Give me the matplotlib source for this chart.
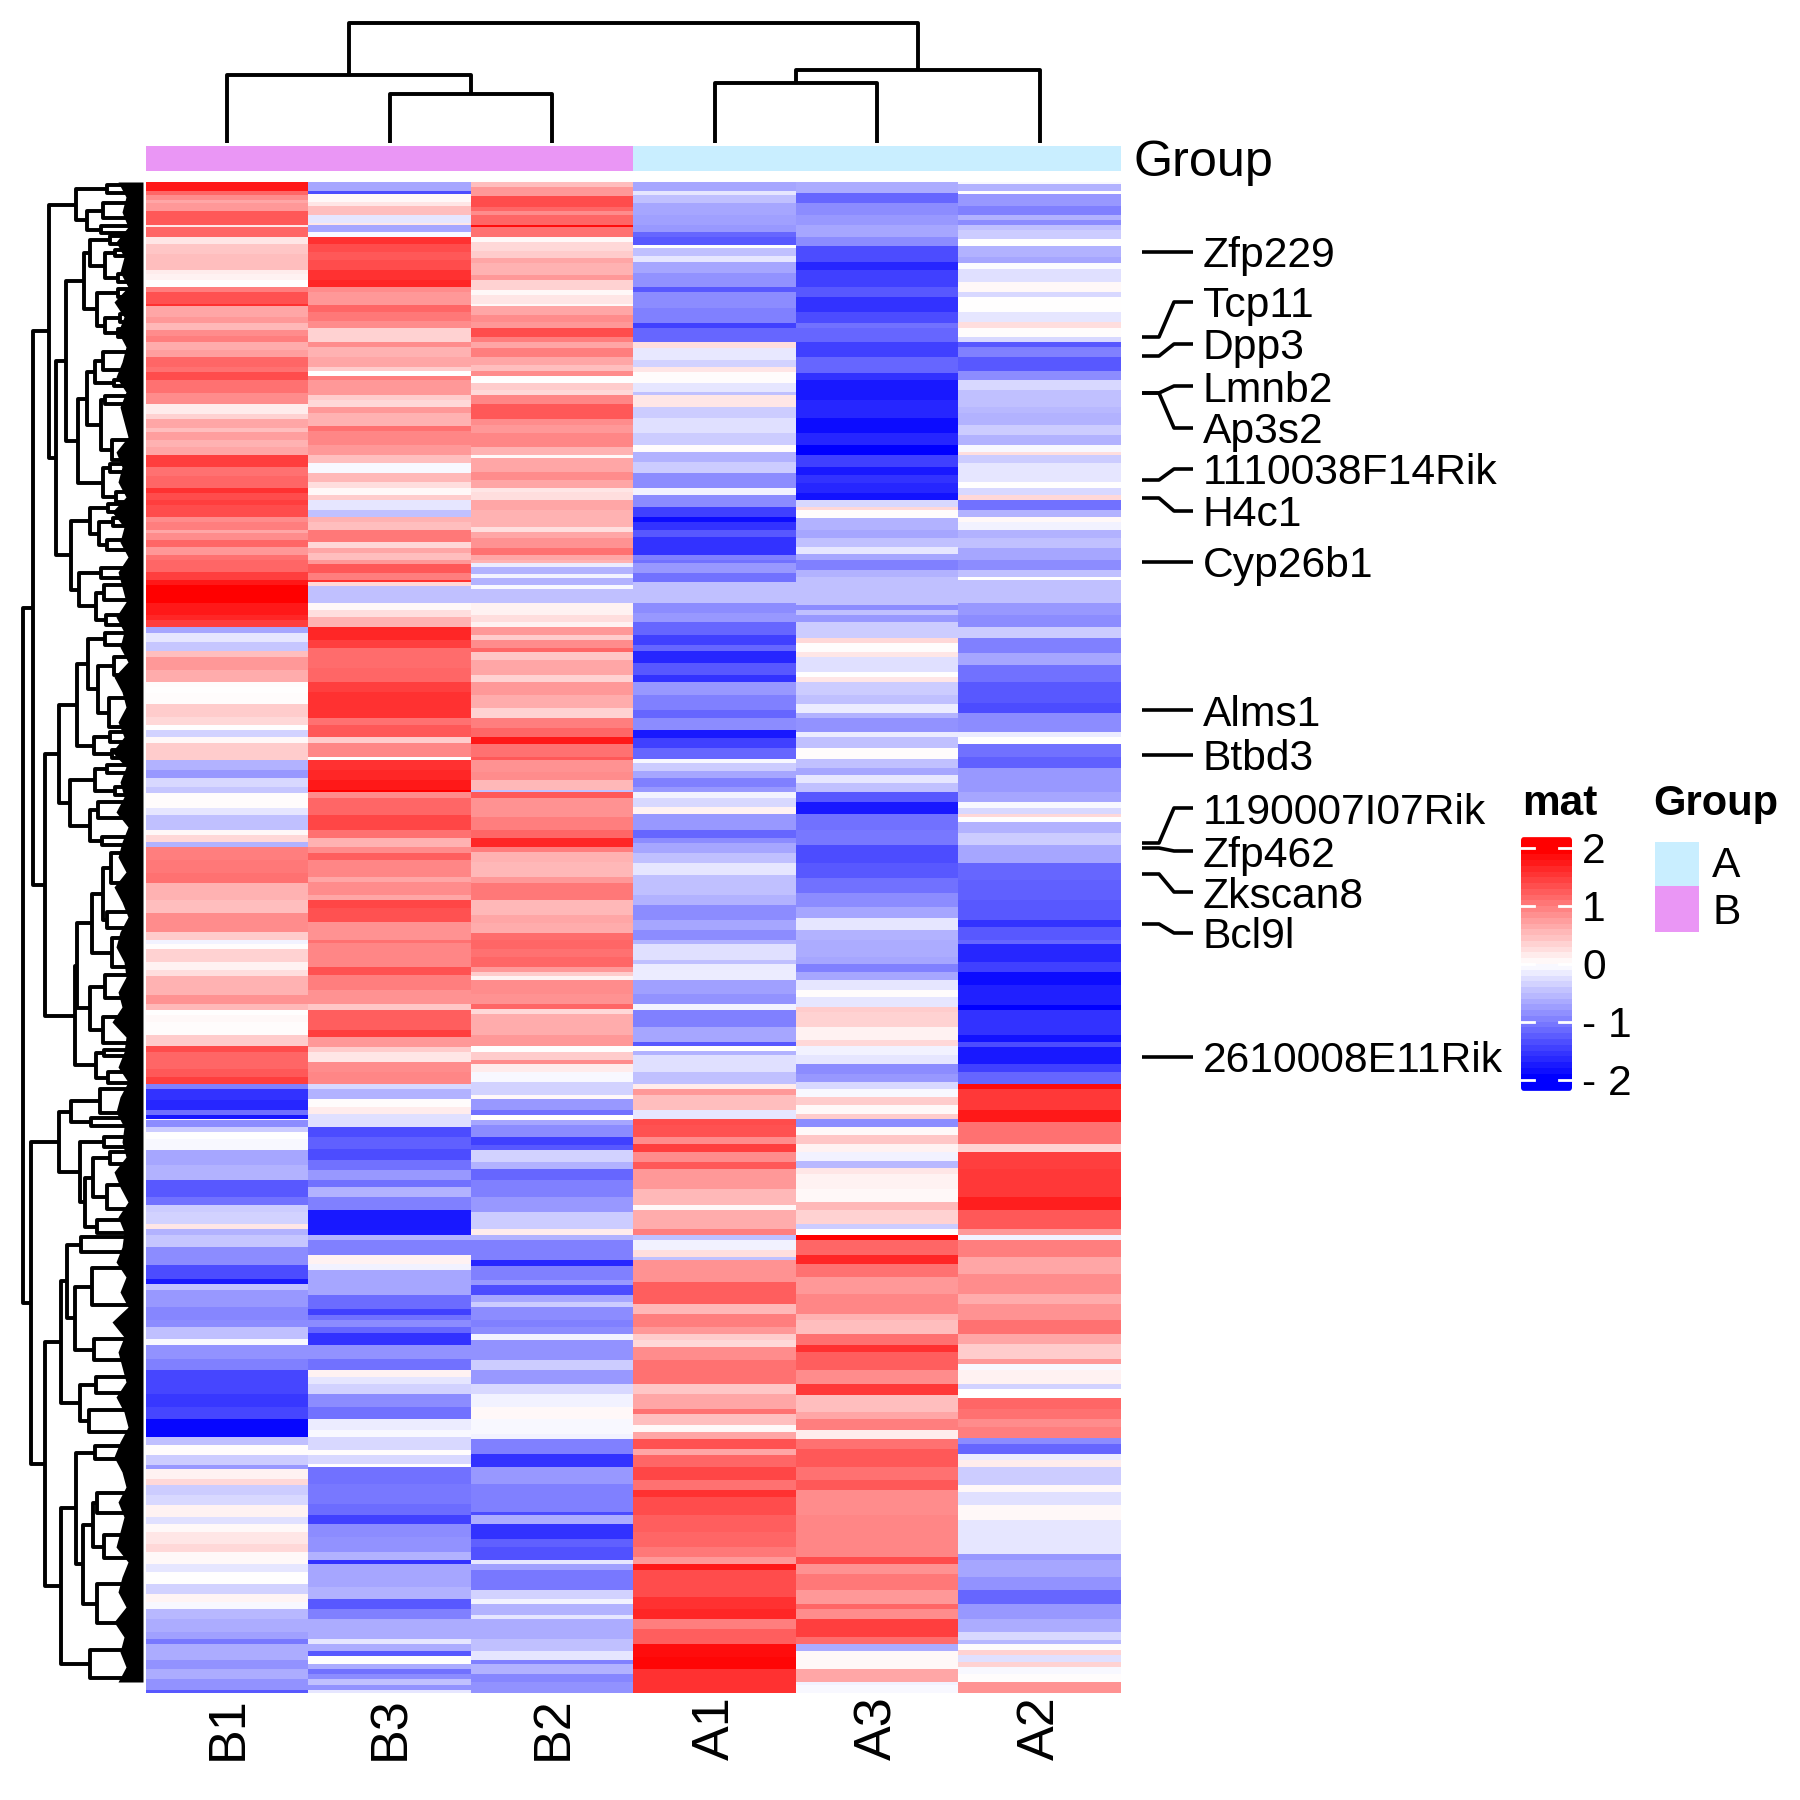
"""
plot.py
Heatmap kiểu ComplexHeatmap: 6 mẫu, dendrogram hàng + cột, nhãn gene bên phải.
"""
import matplotlib
matplotlib.use("Agg")
import matplotlib.pyplot as plt
import numpy as np
from matplotlib.colors import LinearSegmentedColormap, ListedColormap
from matplotlib.patches import FancyBboxPatch

plt.rcParams["font.family"] = ["Liberation Sans", "DejaVu Sans"]

W, H = 1800, 1800

samples = ["B1", "B3", "B2", "A1", "A3", "A2"]
sample_group = [1, 1, 1, 0, 0, 0]
group_names = ["A", "B"]
group_colors = ["#C9EEFF", "#EA96F5"]

# (hàng kết thúc, z-score) — mỗi cột 4 đoạn, mỗi đoạn 1140 hàng
b1_bands = [
    [(33,1.8),(45,1.2),(60,.9),(70,.7),(93,.8),(135,1.3),(141,.2),(171,1.2),(192,.2),(222,.45),(270,.5),(282,.15),(300,.1),(320,0),(336,1.0),(372,1.35),(378,1.6),(410,.7),(430,.8),(450,.55),(468,.9),(486,1.0),(510,.65),(530,.75),(560,1.2),(575,1.1),(600,1.4),(640,1.1),(672,.9),(702,.15),(717,.35),(745,.7),(755,.5),(780,.75),(800,.6),(825,.7),(860,1.5),(888,1.1),(925,1.2),(940,1.6),(960,1.4),(975,1.5),(1010,1.4),(1025,.9),(1050,1.0),(1060,.7),(1080,.9),(1100,1.2),(1125,.8),(1140,1.1)],
    [(35,1.2),(60,1.5),(75,1.8),(130,2.0),(165,1.8),(180,1.7),(200,1.5),(220,-.7),(245,-.2),(272,-.45),(290,.5),(330,.8),(365,.65),(380,.03),(400,0),(432,.03),(470,.4),(495,.3),(510,0),(530,-.35),(550,.05),(600,.4),(630,-.6),(655,-.8),(680,-.3),(700,-.45),(745,.03),(765,-.2),(810,-.5),(825,.05),(845,.3),(860,-.6),(900,1.0),(940,1.05),(970,1.1),(1020,.6),(1060,.5),(1115,.9),(1140,.4)],
    [(12,-.1),(25,.02),(65,.35),(90,.1),(108,.25),(165,.6),(190,.85),(210,.55),(225,0),(245,.05),(285,.02),(318,.4),(335,1.4),(385,1.2),(410,1.3),(432,1.5),(445,-1.0),(480,-1.6),(510,-1.7),(525,-1.1),(535,-1.8),(540,.05),(560,-.9),(575,-.4),(595,0),(630,-.05),(675,-.7),(720,-.6),(770,-1.3),(795,-1.1),(815,-.4),(850,-.35),(865,.2),(885,-.6),(920,-.45),(975,-.9),(1015,-1.4),(1030,-1.8),(1050,-.5),(1100,-.8),(1140,-.95)],
    [(20,-.9),(55,-.5),(75,-.05),(115,-.85),(150,-1.0),(220,-1.45),(260,-1.55),(295,-1.45),(350,-1.95),(375,-.5),(405,.02),(435,-.4),(445,-.8),(475,.1),(495,.3),(525,-.4),(555,-.3),(590,.1),(610,-.25),(635,.05),(670,.2),(695,.3),(730,.05),(755,-.2),(790,0),(820,-.35),(845,.08),(865,-.05),(895,-.55),(935,-.65),(955,-.75),(972,-1.05),(1020,-.65),(1045,-.85),(1075,-.65),(1110,-.85),(1140,-1.3)],
]
b3_bands = [
    [(33,-.7),(42,-1.4),(65,.05),(78,.2),(105,.5),(130,-.2),(136,.2),(156,-.7),(171,-.05),(192,1.6),(215,1.4),(240,1.3),(270,1.4),(300,1.6),(320,1.7),(336,.9),(375,.8),(395,1.2),(422,1.05),(445,.9),(486,.35),(500,.9),(530,.6),(560,.7),(572,.4),(588,0),(600,1.0),(645,.8),(660,.4),(680,.3),(700,.8),(738,.6),(752,1.1),(795,.95),(825,.8),(850,.5),(880,-.05),(905,.55),(925,.25),(945,.05),(960,.4),(990,-.2),(1012,-.5),(1025,.6),(1050,.5),(1085,1.05),(1105,.3),(1120,.7),(1140,.5)],
    [(12,.8),(38,1.3),(60,1.0),(65,1.6),(78,.3),(130,-.5),(150,.05),(170,.25),(200,.6),(240,1.7),(265,1.5),(325,1.15),(365,1.2),(395,1.5),(475,1.6),(495,1.1),(530,1.3),(550,.4),(590,.95),(600,0),(630,1.6),(660,1.7),(690,1.8),(697,2.0),(715,.9),(765,1.2),(810,1.45),(835,1.1),(860,.6),(880,.9),(900,1.25),(950,.95),(965,.7),(1005,.9),(1020,.7),(1045,1.45),(1085,1.35),(1140,.85)],
    [(8,1.1),(80,.95),(105,1.35),(150,1.0),(190,.85),(210,.45),(270,1.25),(290,1.5),(320,.8),(335,.4),(365,.2),(395,.9),(430,.95),(445,-.3),(475,-.6),(500,.03),(520,.15),(560,-.25),(590,-1.4),(625,-1.25),(660,-1.4),(690,-1.1),(720,-.8),(740,-1.1),(770,-.6),(810,-1.0),(885,-1.8),(900,-.6),(945,-1.0),(970,.1),(990,-.1),(1065,-.7),(1105,-1.15),(1125,-1.5),(1140,-1.1)],
    [(20,-.9),(38,-1.2),(75,-1.6),(115,-.85),(150,-1.1),(170,.1),(190,-.2),(220,-.35),(260,-.9),(295,-1.1),(330,-.15),(350,-.05),(390,-.3),(405,.03),(430,-.3),(440,0),(490,-1.1),(550,-1.05),(585,-1.15),(610,-1.5),(650,-.9),(695,-.85),(720,-.6),(730,-1.6),(800,-.7),(835,-.6),(865,-1.3),(895,-1.0),(955,-.65),(972,-.2),(993,-.65),(1008,-1.3),(1030,0),(1045,-.65),(1060,-1.1),(1075,-.9),(1095,-.5),(1110,-.85),(1140,-.2)],
]
b2_bands = [
    [(20,.5),(48,.8),(80,1.4),(93,1.2),(105,.9),(135,1.2),(141,1.9),(171,1.1),(186,.05),(213,.3),(235,.4),(250,.7),(285,.6),(300,.8),(330,.35),(345,.05),(372,.2),(378,.05),(405,.7),(425,.9),(445,.8),(470,1.4),(486,1.0),(505,.7),(530,1.0),(555,.7),(572,.5),(588,.9),(610,0),(630,.4),(645,.3),(672,.95),(717,1.3),(735,.9),(760,.8),(800,.95),(825,.6),(835,.05),(875,.7),(900,.9),(925,.7),(935,.2),(960,.25),(990,.7),(1040,.6),(1055,.25),(1075,.7),(1105,.85),(1125,1.1),(1140,.7)],
    [(8,.6),(22,-.15),(42,-.6),(55,-.1),(75,-.6),(88,-.05),(130,-.5),(165,.1),(185,.25),(200,.1),(225,.8),(240,.4),(265,.9),(275,1.2),(300,.45),(345,.7),(365,.35),(405,.8),(445,.65),(475,.35),(505,1.0),(530,1.2),(552,1.8),(590,1.1),(600,1.3),(635,.85),(660,.9),(690,.55),(697,-.5),(715,1.3),(770,.85),(810,1.0),(835,1.2),(860,1.7),(875,1.0),(905,.6),(950,.55),(970,.8),(1020,1.05),(1065,.55),(1090,.7),(1120,.65),(1140,1.15)],
    [(25,1.2),(50,1.1),(80,1.2),(95,.8),(108,.4),(120,.1),(160,.9),(190,.85),(205,1.2),(220,.3),(285,.65),(318,.8),(335,0),(360,.4),(370,.9),(395,.15),(425,-.05),(465,-.35),(475,.05),(510,-.8),(525,-1.1),(540,.01),(555,-.7),(590,-.9),(615,-1.5),(630,-1.3),(665,-.35),(685,-.6),(720,-1.2),(770,-1.0),(815,-.8),(865,-.4),(885,.15),(900,-.6),(960,-1.0),(978,-1.7),(1020,-1.0),(1035,-.8),(1065,-1.4),(1085,-.7),(1100,-.4),(1140,-.9)],
    [(20,-1.0),(40,-.9),(60,-.1),(120,-.85),(150,-.4),(190,-.8),(220,-.3),(260,-.1),(295,.05),(340,-.05),(355,-.1),(400,-1.0),(440,-1.6),(490,-.8),(575,-1.0),(585,-1.4),(610,-.65),(655,-1.6),(680,-1.25),(720,-1.35),(730,-.2),(750,-.75),(810,-1.05),(835,-.35),(850,-.1),(885,-.6),(895,-.2),(955,-.65),(993,-.5),(1020,-.2),(1030,-1.0),(1060,-.6),(1085,-.95),(1140,-.85)],
]
a1_bands = [
    [(33,-.7),(45,-.2),(68,-.5),(105,-.7),(135,-.75),(156,-.8),(171,-1.2),(195,-1.3),(205,0),(228,-.5),(245,-.2),(280,-.7),(320,-.85),(336,-1.3),(385,-.9),(430,-1.0),(445,-1.5),(486,-1.2),(505,.25),(540,-.18),(560,-.35),(575,.2),(610,.03),(635,-.2),(645,-.5),(680,.2),(715,-.4),(760,-.25),(795,-.4),(815,.02),(845,-.6),(880,-.4),(925,-.9),(945,-.1),(980,-.9),(1010,-1.5),(1025,-1.9),(1050,-1.6),(1070,-1.3),(1125,-1.6),(1140,-1.0)],
    [(10,-1.1),(40,-.8),(65,-1.1),(130,-.5),(160,-.9),(185,-.8),(225,-1.2),(255,-1.5),(273,-1.2),(310,-1.7),(345,-1.3),(365,-1.6),(405,-.8),(450,-1.0),(475,-1.2),(510,-.9),(535,-1.8),(565,-1.5),(597,-1.2),(610,-.05),(632,-.4),(655,-.7),(680,-1.0),(697,-.8),(715,-.1),(740,-.3),(762,.1),(810,-.8),(835,-1.2),(850,-.9),(880,-.7),(910,-.5),(945,-.2),(1005,-.5),(1035,-.6),(1080,-.9),(1110,-.7),(1140,-.9)],
    [(10,-.6),(60,-.25),(70,-.5),(118,-.15),(160,-.75),(190,-.85),(210,-.1),(260,-1.0),(305,-.7),(318,-1.3),(333,0),(345,-.6),(395,-.25),(432,-.5),(445,.15),(465,.8),(510,.5),(535,-.2),(555,1.4),(590,1.35),(612,.9),(635,1.5),(665,.9),(685,1.3),(745,.8),(795,.55),(810,.05),(865,.65),(885,1.0),(900,-.5),(930,-.1),(950,.25),(960,-.5),(1025,.85),(1090,1.25),(1120,.55),(1140,1.0)],
    [(20,1.0),(40,.8),(60,.4),(80,.3),(120,.9),(190,1.1),(220,.45),(265,.7),(280,1.1),(315,.5),(335,.05),(355,.7),(385,1.35),(405,.7),(440,1.2),(480,1.45),(510,1.1),(530,1.6),(585,1.4),(635,1.25),(680,1.2),(710,1.05),(730,.8),(750,1.8),(830,1.4),(865,1.6),(895,1.7),(925,1.0),(972,1.25),(1010,1.9),(1045,1.95),(1140,1.6)],
]
a3_bands = [
    [(40,-.65),(68,-1.2),(105,-.9),(135,-.8),(170,-.7),(198,-.9),(245,-1.4),(270,-1.7),(320,-1.5),(350,-1.3),(395,-1.6),(430,-1.4),(445,-1.1),(486,-1.2),(530,-1.5),(578,-1.2),(600,-1.6),(660,-1.8),(715,-1.7),(760,-1.9),(795,-1.7),(825,-2.0),(860,-1.5),(885,-1.8),(910,-1.6),(940,-1.7),(960,-1.85),(980,-.3),(990,.3),(1015,.03),(1050,-.6),(1075,-.7),(1100,-.5),(1122,-.2),(1140,-.7)],
    [(30,-1.0),(50,-.6),(135,-.5),(150,-.9),(165,-.5),(185,-.8),(235,-.4),(250,.3),(275,.03),(290,.2),(335,-.25),(350,0),(365,.2),(405,-.4),(432,-.5),(460,-.15),(475,-.6),(515,-.85),(530,-.15),(565,-.5),(597,.03),(625,-.5),(645,-.7),(670,-.2),(697,-.5),(725,-1.3),(762,-1.8),(810,-1.1),(855,-1.05),(910,-1.4),(955,-1.3),(1000,-1.1),(1040,-.9),(1075,-.7),(1110,-.2),(1140,-.6)],
    [(50,-.65),(70,-.7),(95,-1.0),(118,-.7),(150,-.2),(170,.02),(200,-.2),(215,.4),(260,.35),(300,.1),(318,.3),(345,-.1),(370,-.2),(400,-.9),(425,-.8),(445,-.3),(470,-.05),(495,.4),(520,.05),(535,.4),(560,-.9),(585,.05),(612,.45),(635,.1),(662,-.1),(682,-.55),(700,.2),(745,.1),(785,.05),(810,.55),(850,.35),(865,-.4),(885,0),(900,2.0),(945,1.2),(970,1.7),(1010,1.1),(1060,.8),(1120,.95),(1140,.6)],
    [(40,.5),(75,1.1),(95,1.6),(150,1.25),(190,.9),(225,1.55),(275,.5),(295,.7),(330,1.0),(355,.15),(385,1.1),(440,1.3),(480,1.1),(510,1.3),(585,.9),(710,.95),(730,1.4),(760,.85),(810,1.05),(850,.8),(865,1.2),(895,.9),(950,1.5),(972,1.15),(993,-.65),(1045,.06),(1085,.7),(1095,-.1),(1140,-.05)],
]
a2_bands = [
    [(12,-.05),(33,-.6),(42,0),(78,-.8),(105,-1.0),(120,-.6),(135,-.9),(150,-.5),(178,-.4),(198,0),(230,-.6),(248,-.7),(268,-.02),(305,-.25),(335,.05),(350,-.3),(395,0),(425,-.2),(445,.25),(470,.02),(486,-.3),(500,-1.3),(530,-1.0),(572,-1.3),(600,-.9),(630,-.3),(680,-.5),(700,-.55),(735,-.6),(765,-.4),(795,-.6),(815,-.05),(825,.25),(850,-.4),(905,-.2),(925,0),(945,-.3),(960,.3),(990,-1.1),(1010,-.6),(1025,.05),(1050,-.1),(1075,-.6),(1105,-.5),(1140,-.7)],
    [(30,-.9),(50,-.5),(60,0),(130,-.5),(165,-.8),(200,-.9),(235,-.4),(280,-1.0),(315,-.7),(365,-1.1),(430,-1.3),(460,-1.4),(515,-.9),(530,-.15),(552,0),(590,-1.1),(625,-1.25),(695,-.8),(725,-.7),(745,-.05),(762,-.3),(770,.3),(785,0),(820,-.6),(855,-.4),(910,-.7),(960,-1.2),(1020,-1.25),(1080,-1.3),(1100,-1.6),(1140,-1.3)],
    [(10,-1.2),(65,-1.7),(95,-1.5),(135,-1.9),(195,-1.75),(210,-2.0),(285,-1.6),(305,-1.85),(320,-1.4),(370,-1.8),(395,-1.5),(432,-1.2),(447,1.9),(510,1.55),(545,1.8),(610,1.1),(635,.35),(685,1.5),(770,1.55),(810,1.75),(865,1.3),(885,.8),(900,-.1),(950,1.0),(1000,.7),(1060,.9),(1090,.65),(1140,.85)],
    [(40,1.1),(70,.7),(115,.4),(130,.8),(150,-.05),(190,.1),(205,-.35),(232,0),(265,1.2),(295,1.1),(320,.9),(352,1.0),(370,-.9),(400,-1.2),(420,-.15),(440,.15),(495,-.4),(515,.05),(555,-.25),(600,.05),(700,-.2),(720,-.8),(770,-.7),(810,-.85),(850,-1.2),(895,-.8),(935,-.65),(960,-.3),(972,-.55),(990,.02),(1005,.35),(1025,-.25),(1040,.35),(1060,-.05),(1085,.03),(1140,.85)],
]
SKIP_TOP, SKIP_BOTTOM = 6, 22  # hàng nằm ngoài heatmap ở đầu và cuối

# dendrogram: (độ cao, nhánh trên, nhánh dưới); lá = vị trí hàng / cột
col_tree = (120, (68, 0.5, (49, 1.5, 2.5)), (73, (60, 3.5, 4.5), 5.5))

row_n1 = (76, (107, 185, 193), (87, (103, 203, 218), (101, 226, 233)))
row_n2 = (66,
          (84, (90, (110, 236, 244), (105, (115, 250, 256), (118, 274, 282))),
               (97, (118, 289, 297), (105, (120, 314, 322), (118, 329, 337)))),
          (78, (87, (95, (103, 352, 370), (114, 380, 386)), (101, (105, 396, 404), (112, 440, 460))),
               (103, (110, 464, 472), (116, 492, 502))))
row_n3 = (71,
          (90, (108, 504, 512), (99, (113, 518, 526), (107, 540, 550))),
          (79, (101, 568, 578), (96, (104, 585, 600), (106, 615, 625))))
row_lower_a = (59,
               (77, (88, (105, 633, 645), (98, (114, 657, 675), (109, 698, 727))),
                    (94, (110, 732, 742), (112, 750, 758))),
               (70, (95, (107, 765, 773), (115, 787, 795)), (90, (98, 802, 818), (102, 837, 845))))
row_lower_b = (75,
               (77, (92, (103, (111, 853, 883), (107, 912, 928)), (112, 938, 967)),
                    (90, (105, 975, 998), (103, 1017, 1043))),
               (96, (104, 1050, 1056), (108, 1072, 1083)))
row_c1 = (59, (71, (100, 1089, 1113), (91, 1118, 1126)),
          (80, (104, 1137, 1147), (85, (93, (110, 1152, 1164), (107, 1185, 1209)), (97, 1220, 1233))))
row_c2 = (61, (67, (81, 1237, 1252), (75, (92, 1268, 1305), (94, 1339, 1360))),
          (80, (96, 1377, 1393), (89, 1410, 1432)))
row_c3 = (61, (76, (95, 1446, 1459), (83, (93, (97, 1493, 1513), (104, 1535, 1558)), (97, 1584, 1623))),
          (90, 1650, 1678))
row_tree = (23,
            (33, (49, row_n1, (56, row_n2, row_n3)), (45, row_lower_a, row_lower_b)),
            (31, row_c1, (45, row_c2, row_c3)))

# mép trái phần lá đen dày đặc, mỗi 15 hàng
leaf_edge = [118, 126, 122, 128, 116, 124, 120, 128, 114, 124, 118, 126, 122, 116, 126, 120, 124, 128,
             116, 122, 118, 126, 112, 124, 120, 128, 118, 122, 126, 116, 124, 120, 128, 114, 122, 126,
             118, 124, 112, 126, 120, 124, 116, 128, 122, 118, 126, 114, 122, 128, 120, 116, 124, 126,
             118, 122, 112, 126, 124, 118, 128, 120, 116, 124, 122, 126, 114, 120, 128, 118, 124, 122,
             116, 126, 120, 128, 112, 124, 118, 122, 126, 116, 124, 128, 120, 114, 122, 126, 118, 124,
             120, 116, 128, 122, 118, 126, 114, 124, 120, 126, 118]

# nhãn gene
genes = ["Zfp229", "Tcp11", "Dpp3", "Lmnb2", "Ap3s2", "1110038F14Rik", "H4c1", "Cyp26b1",
         "Alms1", "Btbd3", "1190007I07Rik", "Zfp462", "Zkscan8", "Bcl9l", "2610008E11Rik"]
gene_rows = [252, 337, 356, 393, 393, 480, 498, 562, 710, 755, 843, 848, 874, 924, 1057]
gene_label_y = [252, 302, 344, 386, 428, 469, 511, 562, 710, 755, 808, 851, 892, 933, 1057]

cbar_ticks = [2, 1, 0, -1, -2]
cbar_tick_labels = ["2", "1", "0", "- 1", "- 2"]


def px_axes(fig, x0, y0, x1, y1, **kw):
    return fig.add_axes([x0 / W, 1 - y1 / H, (x1 - x0) / W, (y1 - y0) / H], **kw)


def build_matrix():
    cols = []
    for bands in (b1_bands, b3_bands, b2_bands, a1_bands, a3_bands, a2_bands):
        col = []
        for seg in bands:
            start = 0
            for end, val in seg:
                col.extend([val] * (end - start))
                start = end
        cols.append(col[SKIP_TOP:len(col) - SKIP_BOTTOM])
    return np.array(cols).T


def draw_tree(ax, node, leaf_pos, horizontal):
    """Vẽ đệ quy, trả về tâm của nhánh."""
    if not isinstance(node, tuple):
        return node
    h, a, b = node
    pa = draw_tree(ax, a, leaf_pos, horizontal)
    pb = draw_tree(ax, b, leaf_pos, horizontal)
    ha = a[0] if isinstance(a, tuple) else leaf_pos
    hb = b[0] if isinstance(b, tuple) else leaf_pos
    xs, ys = [ha, h, h, hb], [pa, pa, pb, pb]
    if horizontal:
        xs, ys = ys, xs
    ax.plot(xs, ys, color="black", lw=2.8, solid_capstyle="butt", solid_joinstyle="round", clip_on=False)
    return (pa + pb) / 2


fig = plt.figure(figsize=(W / 100, H / 100), dpi=100)
cmap = LinearSegmentedColormap.from_list("bwr2", ["#0000FF", "#FFFFFF", "#FF0000"], N=256)

# ── Heatmap ───────────────────────────────────────────────────────────────────
mat = build_matrix()
ax = px_axes(fig, 146, 182, 1121, 1693)
ax.imshow(mat, aspect="auto", cmap=cmap, vmin=-2, vmax=2, interpolation="nearest", extent=(0, 6, len(mat), 0))
ax.axis("off")

# ── Thanh nhóm ────────────────────────────────────────────────────────────────
ax_ann = px_axes(fig, 146, 146, 1121, 171)
ax_ann.imshow([sample_group], aspect="auto", cmap=ListedColormap(group_colors), vmin=0, vmax=1,
              interpolation="nearest", extent=(0, 6, 1, 0))
ax_ann.axis("off")

# ── Dendrogram cột ────────────────────────────────────────────────────────────
ax_top = px_axes(fig, 146, 20, 1121, 143)
ax_top.set_xlim(0, 6)
ax_top.set_ylim(0, 123)
ax_top.axis("off")
draw_tree(ax_top, col_tree, 0, True)

# ── Dendrogram hàng ───────────────────────────────────────────────────────────
ax_left = px_axes(fig, 0, 182, 143, 1693)
ax_left.set_xlim(0, 143)
ax_left.set_ylim(1693, 182)
ax_left.axis("off")
draw_tree(ax_left, row_tree, 143, False)
edge_rows = 182 + 15 * np.arange(len(leaf_edge))
ax_left.fill_betweenx(edge_rows, leaf_edge, 143, color="black", lw=0)

# ── Chữ + legend, toạ độ theo pixel ──────────────────────────────────────────
ov = px_axes(fig, 0, 0, W, H)
ov.set_xlim(0, W)
ov.set_ylim(H, 0)
ov.axis("off")
ov.patch.set_alpha(0)

for name, col in zip(samples, np.arange(len(samples)) + 0.5):
    ov.text(147 + 162.5 * col, 1760, name, rotation=90, ha="center", va="bottom", fontsize=37.5)

ov.text(1133, 176, "Group", fontsize=36.3, va="baseline")

for gene, row, y in zip(genes, gene_rows, gene_label_y):
    ov.plot([1142, 1159, 1174, 1193], [row, row, y, y], color="black", lw=2.6,
            solid_capstyle="butt", solid_joinstyle="round")
    ov.text(1203, y + 15.5, gene, fontsize=30.7, va="baseline")

# colorbar
ax_cb = px_axes(fig, 1521, 837, 1572, 1091)
grad = np.linspace(2.19, -2.19, 44)[:, None]
im = ax_cb.imshow(grad, aspect="auto", cmap=cmap, vmin=-2, vmax=2, interpolation="nearest",
                  extent=(0, 1, -2.19, 2.19))
ax_cb.axis("off")
clip = FancyBboxPatch((0.04, -2.15), 0.92, 4.3, boxstyle="round,pad=0.04,rounding_size=0.06",
                      mutation_aspect=4.3 * 51 / 254 / 0.92, transform=ax_cb.transData, fc="none", ec="none")
ax_cb.add_patch(clip)
im.set_clip_path(clip)
for t in cbar_ticks:
    ax_cb.plot([0, 0.26], [t, t], color="white", lw=2)
    ax_cb.plot([0.74, 1], [t, t], color="white", lw=2)
ax_cb.set_xlim(0, 1)
ax_cb.set_ylim(-2.19, 2.19)
for t, lab in zip(cbar_ticks, cbar_tick_labels):
    ov.text(1582, 964 - 58 * t + 15, lab, fontsize=30.7, va="baseline")

ov.text(1522, 815, "mat", fontsize=30.5, fontweight="bold", va="baseline")
ov.text(1653, 815, "Group", fontsize=30, fontweight="bold", va="baseline")

# legend nhóm
ax_leg = px_axes(fig, 1655, 842, 1699, 932)
ax_leg.imshow([[0], [1]], aspect="auto", cmap=ListedColormap(group_colors), interpolation="nearest")
ax_leg.axis("off")
for name, base in zip(group_names, (877, 924)):
    ov.text(1712, base, name, fontsize=30.7, va="baseline")

fig.savefig("out.png", dpi=100)
plt.close(fig)
